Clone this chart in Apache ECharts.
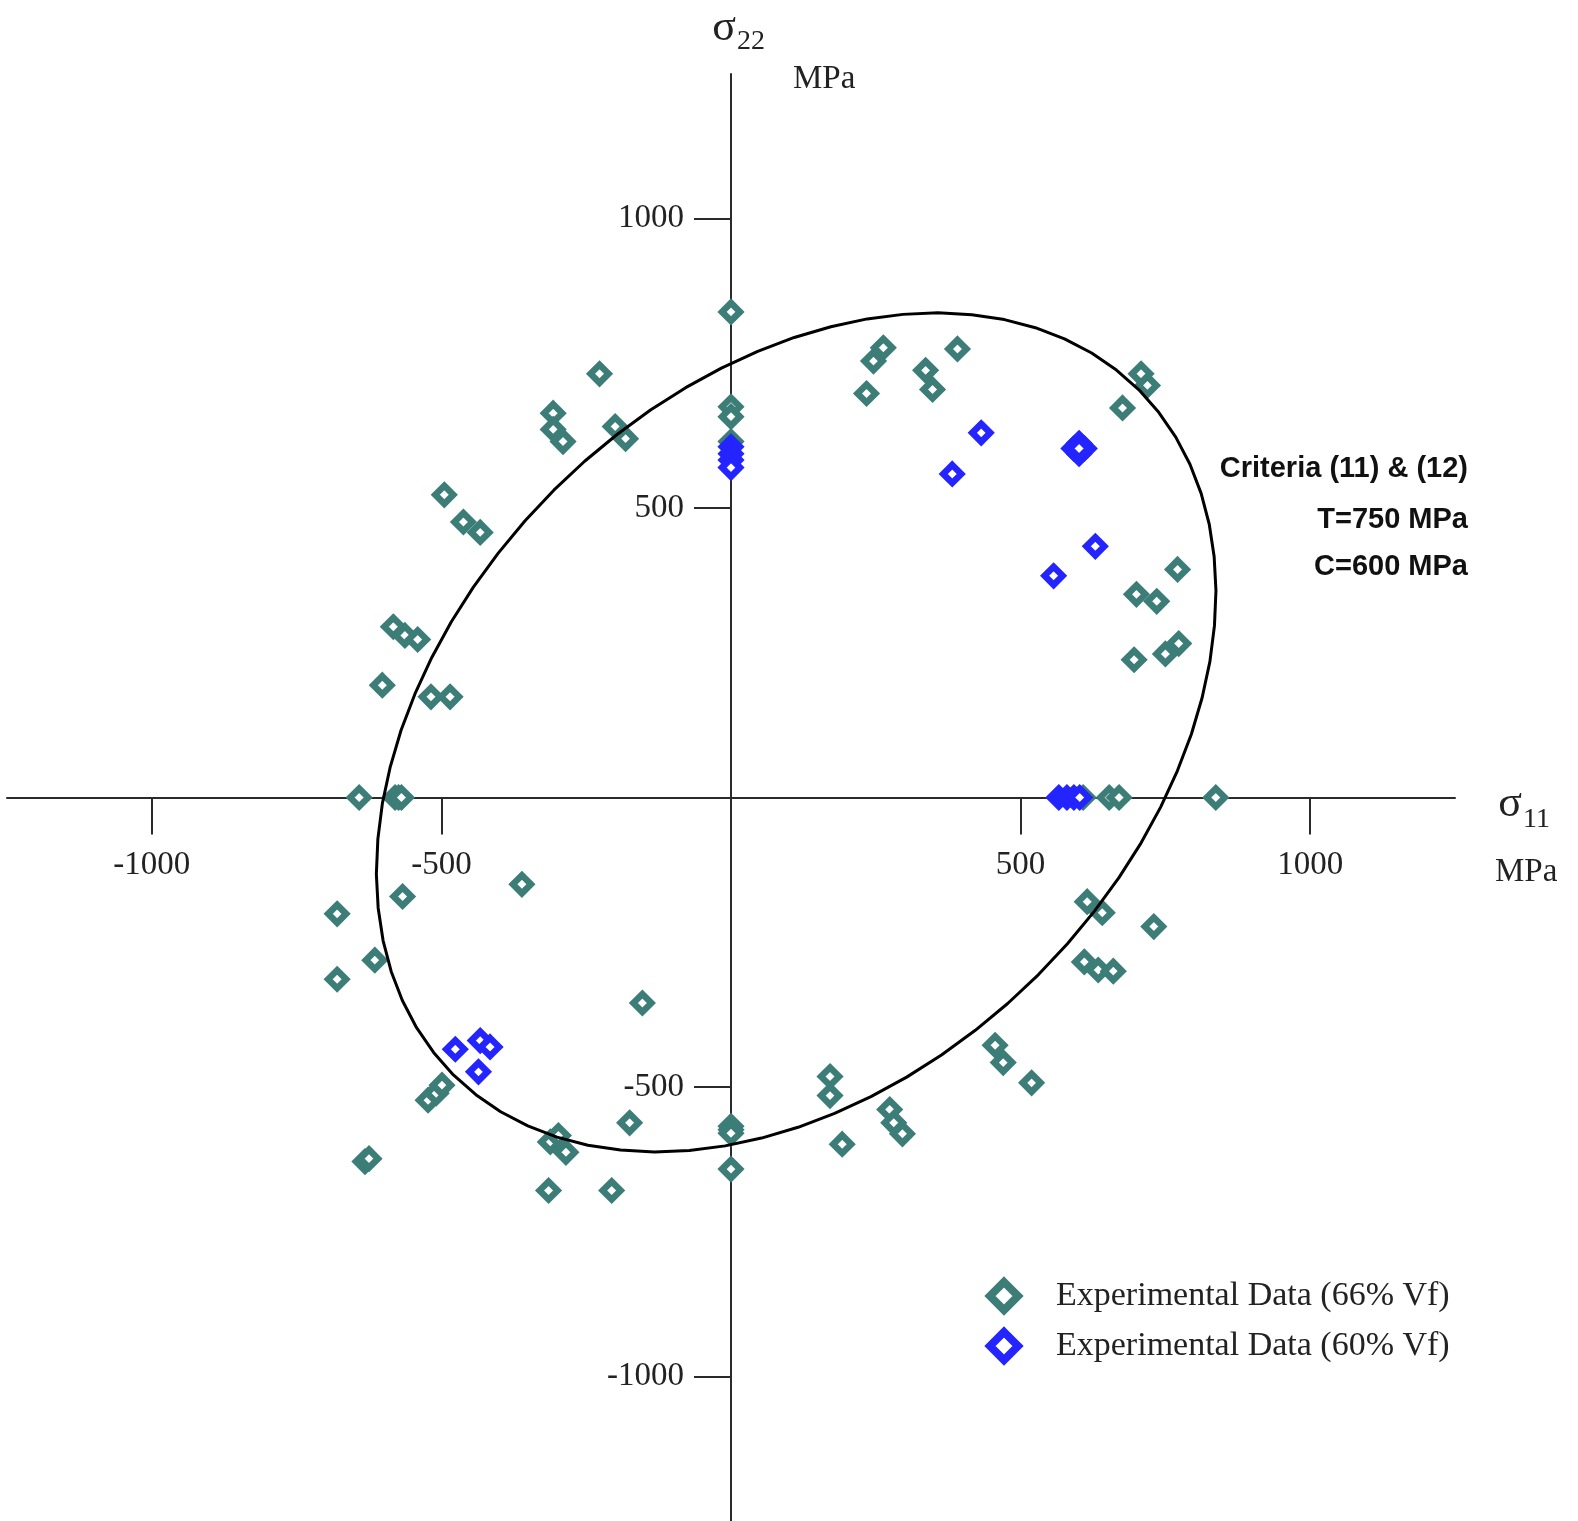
<!DOCTYPE html>
<html>
<head>
<meta charset="utf-8">
<script src="https://cdn.jsdelivr.net/npm/echarts@6/dist/echarts.min.js"></script>
<style>
html,body{margin:0;padding:0;background:#fff;}
#chart{width:1578px;height:1521px;}
</style>
</head>
<body>
<div id="chart"></div>
<script>
// Tick positions (MPa)
const tickValues = [-1000, -500, 500, 1000];

// Experimental data, 66% Vf  [sigma11, sigma22] in MPa
const data66 = [
  [0, 839], [263, 777], [246, 754], [234, 698], [336, 738], [348, 705], [391, 775],
  [708, 732], [719, 712], [676, 673],
  [0, 675], [0, 658], [0, 615],
  [-227, 732], [-307, 664], [-307, 636], [-290, 615], [-200, 641], [-182, 620],
  [-495, 523], [-462, 476], [-433, 458],
  [-583, 295], [-563, 280], [-541, 273], [-602, 194], [-518, 174], [-485, 174],
  [771, 394], [700, 351], [735, 339], [773, 266], [750, 248], [696, 238],
  [-642, 0], [-580, 0], [-574, 0], [-569, 0], [608, 0], [653, 0], [670, 0], [837, 0],
  [-680, -201], [-567, -171], [-361, -150], [-615, -281], [-680, -314], [-153, -355],
  [-523, -523], [-509, -511], [-499, -497],
  [-632, -629], [-625, -624],
  [-312, -595], [-298, -584], [-285, -613], [-315, -679], [-206, -679], [-175, -562],
  [0, -568], [0, -574], [0, -580], [0, -642],
  [171, -482], [171, -515], [192, -599], [274, -539], [281, -562], [296, -581],
  [456, -428], [470, -458], [519, -493],
  [615, -180], [641, -199], [730, -223], [610, -284], [634, -298], [660, -300]
];

// Experimental data, 60% Vf
const data60 = [
  [432, 630], [382, 559],
  [592, 603], [601, 612], [610, 603], [601, 594], [601, 603],
  [629, 434], [557, 383],
  [0, 606], [0, 594], [0, 583], [0, 570],
  [566, 0], [580, 0], [592, 0], [602, 0],
  [-476, -435], [-433, -420], [-416, -431], [-436, -474]
];

// Failure envelope, Criteria (11) & (12)
const envelope = [
  [704.3, 704.3], [665.5, 738.5], [622.7, 767.9], [575.8, 792.4], [525.5, 811.7],
  [472.1, 825.7], [415.8, 834.2], [357.3, 837.3], [296.9, 834.7], [235.1, 826.9],
  [172.4, 813.4], [109.2, 794.8], [46.1, 770.7], [-16.6, 741.8], [-78.3, 708.1],
  [-138.4, 669.8], [-196.8, 627.2], [-252.7, 580.9], [-305.9, 530.9], [-355.9, 477.7],
  [-402.2, 421.8], [-444.8, 363.4], [-483.1, 303.3], [-516.8, 241.6], [-545.7, 178.9],
  [-569.8, 115.8], [-588.4, 52.6], [-601.9, -10.1], [-609.7, -71.9], [-612.3, -132.3],
  [-609.2, -190.8], [-600.7, -247.1], [-586.7, -300.5], [-567.4, -350.8], [-542.9, -397.7],
  [-513.5, -440.5], [-479.3, -479.3], [-440.5, -513.5], [-397.7, -542.9], [-350.8, -567.4],
  [-300.5, -586.7], [-247.1, -600.7], [-190.8, -609.2], [-132.3, -612.3], [-71.9, -609.7],
  [-10.1, -601.9], [52.6, -588.4], [115.8, -569.8], [178.9, -545.7], [241.6, -516.8],
  [303.3, -483.1], [363.4, -444.8], [421.8, -402.2], [477.7, -355.9], [530.9, -305.9],
  [580.9, -252.7], [627.2, -196.8], [669.8, -138.4], [708.1, -78.3], [741.8, -16.6],
  [770.7, 46.1], [794.8, 109.2], [813.4, 172.4], [826.9, 235.1], [834.7, 296.9],
  [837.3, 357.3], [834.2, 415.8], [825.7, 472.1], [811.7, 525.5], [792.4, 575.8],
  [767.9, 622.7], [738.5, 665.5], [704.3, 704.3]
];

const annotationLines = ['Criteria (11) & (12)', 'T=750 MPa', 'C=600 MPa'];
const legendNames = ['Experimental Data (66% Vf)', 'Experimental Data (60% Vf)'];

const TEAL = '#3d7d78';
const BLUE = '#2424ff';
const SERIF = "'Liberation Serif', 'Times New Roman', serif";
const SANS = "'Liberation Sans', Arial, sans-serif";
const AXIS_COLOR = '#2a2a2a';

// Layout of the plotting square
const GRID = { left: 7, top: 74, width: 1448, height: 1447 };
const CHART_H = 1521;

function axisCommon(position, offset, margin, padding) {
  return {
    type: 'value',
    position: position,
    offset: offset,
    min: -1250,
    max: 1250,
    interval: 250,
    splitLine: { show: false },
    axisLine: { show: true, onZero: false, lineStyle: { color: AXIS_COLOR, width: 2 } },
    axisTick: { show: true, customValues: tickValues, length: 37, lineStyle: { color: AXIS_COLOR, width: 2 } },
    axisLabel: {
      show: true,
      showMinLabel: true,
      showMaxLabel: true,
      hideOverlap: false,
      fontFamily: SERIF,
      fontSize: 33,
      color: '#222',
      margin: margin,
      padding: padding,
      formatter: function (v) { return tickValues.indexOf(v) >= 0 ? String(v) : ''; }
    }
  };
}

// Axes cross at the origin, which is the centre of the plotting square
const xOffset = -(CHART_H - (GRID.top + GRID.height / 2));
const yOffset = -(GRID.width / 2);

const chart = echarts.init(document.getElementById('chart'), null, { renderer: 'canvas' });

const graphics = [
  { type: 'text', x: 724, y: 28, style: { text: 'σ', font: '44px ' + SERIF, fill: '#222', align: 'center', verticalAlign: 'middle' } },
  { type: 'text', x: 737, y: 42, style: { text: '22', font: '28px ' + SERIF, fill: '#222', align: 'left', verticalAlign: 'middle' } },
  { type: 'text', x: 793, y: 79, style: { text: 'MPa', font: '33px ' + SERIF, fill: '#222', align: 'left', verticalAlign: 'middle' } },
  { type: 'text', x: 1510, y: 804, style: { text: 'σ', font: '44px ' + SERIF, fill: '#222', align: 'center', verticalAlign: 'middle' } },
  { type: 'text', x: 1523, y: 820, style: { text: '11', font: '28px ' + SERIF, fill: '#222', align: 'left', verticalAlign: 'middle' } },
  { type: 'text', x: 1495, y: 872, style: { text: 'MPa', font: '33px ' + SERIF, fill: '#222', align: 'left', verticalAlign: 'middle' } }
];
const annY = [469, 520, 567];
annotationLines.forEach(function (t, i) {
  graphics.push({ type: 'text', x: 1468, y: annY[i], style: { text: t, font: 'bold 29px ' + SANS, fill: '#111', align: 'right', verticalAlign: 'middle' } });
});

chart.setOption({
  animation: false,
  backgroundColor: '#ffffff',
  grid: { left: GRID.left, top: GRID.top, width: GRID.width, height: GRID.height, containLabel: false, outerBoundsMode: 'none' },
  xAxis: axisCommon('bottom', xOffset, 51, [0, 0, 0, 0]),
  yAxis: axisCommon('left', yOffset, 47, [6, 0, 0, 0]),
  legend: {
    orient: 'vertical',
    left: 981,
    top: 1273,
    itemWidth: 28,
    itemHeight: 28,
    itemGap: 14,
    data: legendNames,
    itemStyle: { borderWidth: 8 },
    textStyle: { fontFamily: SERIF, fontSize: 34, color: '#222', padding: [0, 0, 0, 33] }
  },
  graphic: graphics,
  series: [
    {
      name: legendNames[0],
      type: 'scatter',
      data: data66,
      symbol: 'diamond',
      symbolSize: 18,
      z: 2,
      itemStyle: { color: '#ffffff', borderColor: TEAL, borderWidth: 6.5, opacity: 1 }
    },
    {
      name: 'envelope',
      type: 'line',
      data: envelope,
      smooth: false,
      symbol: 'none',
      z: 3,
      lineStyle: { color: '#000', width: 3 },
      silent: true
    },
    {
      name: legendNames[1],
      type: 'scatter',
      data: data60,
      symbol: 'diamond',
      symbolSize: 18,
      z: 4,
      itemStyle: { color: '#ffffff', borderColor: BLUE, borderWidth: 6.5, opacity: 1 }
    }
  ]
});
</script>
</body>
</html>
